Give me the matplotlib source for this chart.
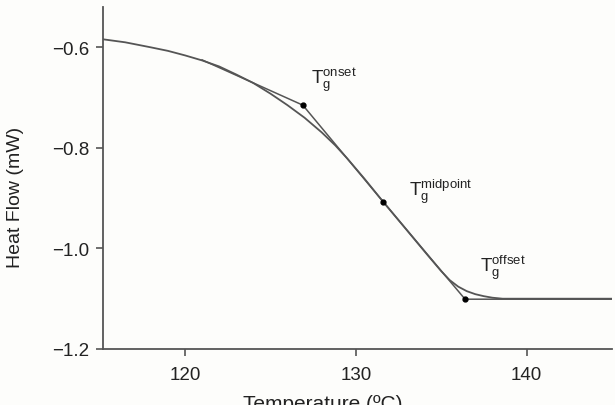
import matplotlib
matplotlib.use("Agg")
import matplotlib.pyplot as plt

# DSC heat flow curve
temp = [115.2, 116.5, 118.0, 119.0, 120.0, 121.0, 122.0, 123.0, 124.0, 125.0,
        126.0, 127.0, 128.0, 128.8, 129.5, 130.5, 131.6, 133.0, 134.2, 135.0,
        135.5, 136.0, 136.5, 137.0, 137.5, 138.0, 138.6, 145.0]
heat_flow = [-0.584, -0.590, -0.600, -0.607, -0.616, -0.626, -0.638, -0.654, -0.671, -0.692,
             -0.715, -0.740, -0.769, -0.795, -0.821, -0.861, -0.907, -0.964, -1.013, -1.045,
             -1.063, -1.076, -1.085, -1.091, -1.095, -1.098, -1.100, -1.100]

# tangent construction
tan_x = [121.0, 126.9, 131.6, 136.4, 145.0]
tan_y = [-0.625, -0.715, -0.907, -1.101, -1.101]

# characteristic points
tg_x = [126.9, 131.6, 136.4]
tg_y = [-0.715, -0.907, -1.101]
tg_labels = ["onset", "midpoint", "offset"]
label_x = [127.4, 133.1, 137.3]
label_y = [-0.664, -0.886, -1.037]

plt.rcParams["font.family"] = ["Liberation Sans", "DejaVu Sans"]
plt.rcParams["mathtext.fontset"] = "custom"
plt.rcParams["mathtext.rm"] = "Liberation Sans"
plt.rcParams["mathtext.it"] = "Liberation Sans"

bg = "#fdfdfb"
line_col = "#555555"
txt_col = "#222222"

fig = plt.figure(figsize=(6.15, 4.06), dpi=100, facecolor=bg)
ax = fig.add_axes([0.1675, 0.138, 0.8275, 0.842], facecolor=bg)

ax.plot(temp, heat_flow, color=line_col, lw=1.3, solid_joinstyle="round")
ax.plot(tan_x, tan_y, color=line_col, lw=1.1, solid_joinstyle="round")
ax.plot(tg_x, tg_y, "o", color="black", ms=3.5, zorder=5)

for lx, ly, lab in zip(label_x, label_y, tg_labels):
    ax.text(lx, ly, r"$\mathregular{T_g^{%s}}$" % lab, fontsize=13.5,
            ha="left", va="center", color=txt_col)

ax.set_xlim(115.2, 145)
ax.set_ylim(-1.2, -0.52)
ax.set_xticks([120, 130, 140])
ax.set_yticks([-1.2, -1.0, -0.8, -0.6])
ax.set_yticklabels(["\u22121.2", "\u22121.0", "\u22120.8", "\u22120.6"])

for s in ["top", "right"]:
    ax.spines[s].set_visible(False)
for s in ["left", "bottom"]:
    ax.spines[s].set_color(line_col)
    ax.spines[s].set_linewidth(1.3)

ax.tick_params(direction="out", length=5, width=1.2, color=line_col,
               labelsize=13.5, labelcolor=txt_col)
ax.tick_params(axis="x", pad=7)
ax.tick_params(axis="y", pad=5)

ax.set_ylabel("Heat Flow (mW)", fontsize=14, color=txt_col)
ax.yaxis.set_label_coords(-0.155, 0.447)
ax.set_xlabel("Temperature (\u00baC)", fontsize=15, color=txt_col)
ax.xaxis.set_label_coords(0.432, -0.132)

fig.savefig("out.png", dpi=100, facecolor=bg)
